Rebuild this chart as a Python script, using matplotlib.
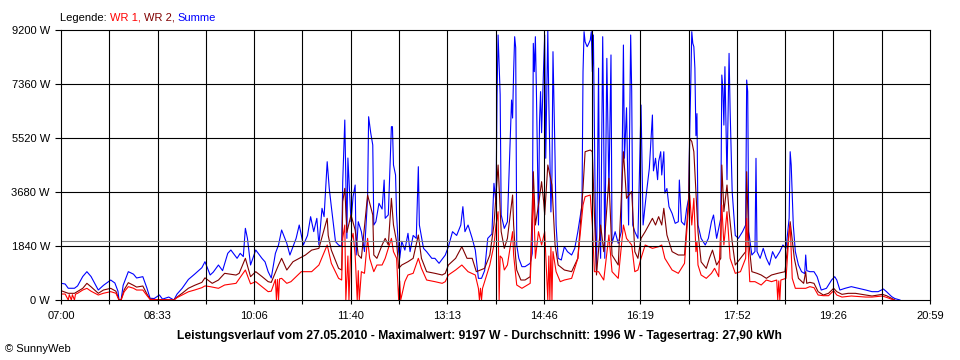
import matplotlib
matplotlib.use("Agg")
import matplotlib.pyplot as plt
import numpy as np

plt.rcParams['font.family'] = ['Liberation Sans', 'DejaVu Sans']
plt.rcParams['font.size'] = 8

# minutes after 07:00, power in W
summe = [(0, 570), (4, 545), (7, 400), (13, 400), (16, 480), (21, 800), (25, 965), (29, 800), (32, 600),
         (36, 340), (41, 500), (48, 680), (52, 580), (55, 300), (56, 0), (58, 0), (60, 500), (65, 965),
         (70, 880), (73, 750), (79, 795), (83, 400), (86, 60), (90, 50), (95, 170), (98, 30), (104, 100),
         (109, 0), (112, 200), (117, 400), (123, 700), (129, 880), (136, 1100), (139, 1305), (144, 852),
         (147, 950), (152, 1192), (156, 1000), (161, 1590), (164, 1704), (170, 1420), (173, 1590),
         (176, 1480), (178, 2442), (180, 2100), (183, 1192), (188, 1704), (194, 1420), (197, 1300),
         (200, 965), (203, 750), (207, 1590), (210, 1874), (213, 2385), (218, 1931), (221, 1533),
         (224, 1817), (227, 2100), (230, 2555), (234, 1874), (238, 2200), (241, 2839), (244, 2330),
         (247, 2783), (249, 1874), (252, 3124), (254, 2840), (257, 4712), (259, 3800), (261, 3180),
         (265, 1990), (268, 1874), (271, 1817), (272, 4031), (274, 6133), (276, 2100), (277, 4838),
         (280, 2670), (282, 3520), (284, 3918), (285, 1533), (287, 2668), (290, 2330), (293, 1650),
         (296, 3464), (297, 6245), (299, 5700), (301, 5281), (302, 2555), (304, 2668), (307, 3293),
         (310, 3100), (312, 4088), (313, 2783), (316, 2900), (319, 5906), (320, 5906), (321, 4600),
         (323, 4260), (324, 2900), (326, 1647), (327, 1420), (329, 2000), (332, 1700), (335, 2272),
         (337, 1647), (340, 2200), (343, 2100), (345, 4542), (346, 2555), (350, 1760), (353, 1647),
         (358, 1420), (361, 1420), (365, 1250), (371, 1530), (374, 1817), (378, 2328), (382, 2200),
         (386, 2555), (388, 3180), (390, 2328), (393, 2555), (397, 2100), (400, 1700), (403, 738),
         (406, 738), (409, 1000), (412, 2100), (416, 2250), (418, 3975), (420, 3300), (421, 6985),
         (422, 9030), (424, 7000), (425, 2900), (428, 2440), (431, 2668), (435, 6814), (436, 6200),
         (437, 7780), (438, 8972), (439, 8600), (440, 1874), (442, 1420), (445, 1136), (448, 1136),
         (453, 1250), (455, 1590), (456, 8745), (457, 7780), (458, 8972), (459, 7100), (461, 2555),
         (462, 6076), (463, 7100), (464, 5700), (466, 8006), (467, 9030), (468, 4830), (469, 7100),
         (470, 9177), (471, 6700), (473, 3000), (474, 4260), (475, 8461), (477, 4830), (478, 2555),
         (480, 1420), (483, 1363), (486, 1817), (489, 1647), (493, 1533), (496, 1760), (499, 2328),
         (503, 3237), (504, 7780), (505, 9143), (506, 8800), (508, 8630), (509, 8700), (511, 8860),
         (512, 9143), (513, 7780), (514, 9030), (515, 5900), (516, 2555), (517, 965), (519, 7900),
         (520, 2555), (521, 1420), (523, 8972), (524, 5600), (525, 1420), (527, 8234), (529, 3700),
         (531, 8350), (532, 1931), (535, 2328), (538, 1931), (541, 2328), (543, 8688), (544, 4830),
         (546, 6550), (548, 2555), (550, 9030), (551, 7100), (552, 2555), (554, 2328), (557, 2100),
         (560, 6644), (562, 2555), (565, 3577), (568, 4480), (571, 6303), (572, 4400), (574, 4830),
         (576, 4100), (577, 4712), (579, 5053), (580, 4260), (582, 5053), (583, 3640), (585, 3800),
         (587, 3180), (590, 2950), (593, 2612), (596, 2668), (597, 4088), (599, 2668), (602, 2555),
         (604, 3100), (606, 3464), (607, 5735), (608, 7325), (609, 9143), (610, 8745), (611, 8630),
         (612, 7900), (613, 5600), (614, 6350), (615, 2555), (618, 2100), (622, 1874), (625, 2100),
         (628, 2668), (630, 2896), (633, 2100), (637, 2783), (638, 7666), (639, 7210), (640, 5960),
         (641, 7950), (642, 5960), (643, 4100), (645, 8404), (646, 6500), (648, 3700), (651, 2200),
         (654, 2100), (658, 2328), (661, 2555), (662, 7495), (663, 7100), (664, 2328), (667, 1533),
         (670, 1650), (671, 4827), (672, 1650), (675, 1420), (678, 1760), (681, 1420), (684, 1192),
         (687, 1647), (690, 1420), (694, 1647), (697, 1874), (700, 1760), (703, 2783), (704, 5053),
         (705, 4600), (707, 2555), (709, 1647), (712, 1192), (715, 965), (718, 900), (719, 1533),
         (720, 1000), (723, 965), (727, 965), (730, 795), (734, 340), (739, 398), (744, 681), (747, 795),
         (749, 681), (752, 340), (757, 398), (763, 455), (770, 398), (777, 340), (783, 284), (789, 284),
         (794, 375), (797, 284), (802, 114), (805, 50), (810, 0)]

wr2 = [(0, 318), (7, 228), (13, 228), (21, 398), (25, 568), (29, 450), (36, 228), (41, 340), (48, 398),
       (53, 300), (56, 0), (58, 0), (61, 350), (65, 590), (70, 500), (73, 440), (79, 477), (83, 200),
       (86, 30), (90, 15), (109, 0), (112, 100), (117, 230), (123, 400), (129, 500), (136, 600),
       (139, 755), (146, 568), (152, 680), (158, 909), (169, 850), (172, 909), (178, 1420), (183, 795),
       (188, 965), (194, 800), (200, 625), (203, 600), (210, 1192), (213, 1420), (218, 1022),
       (224, 1305), (236, 1533), (242, 1700), (249, 1760), (257, 2783), (258, 2200), (261, 1700),
       (268, 1079), (271, 1022), (272, 3350), (274, 3805), (276, 2300), (280, 2900), (284, 2385),
       (287, 1533), (290, 1420), (296, 3577), (301, 2900), (302, 1533), (305, 1420), (310, 1874),
       (313, 2100), (316, 1874), (319, 3464), (321, 2555), (324, 1990), (326, 1080), (329, 1192),
       (335, 1305), (340, 1420), (345, 2215), (348, 1420), (353, 965), (361, 909), (368, 852),
       (371, 909), (374, 1192), (381, 1420), (387, 1817), (392, 1420), (397, 1420), (401, 965),
       (405, 1022), (409, 1079), (414, 1533), (418, 2555), (420, 3577), (422, 4600), (425, 2328),
       (428, 1760), (431, 2100), (436, 3577), (437, 2555), (439, 1420), (440, 1022), (444, 681),
       (448, 681), (453, 795), (456, 4372), (458, 2555), (461, 3237), (464, 4031), (466, 3350),
       (467, 2900), (470, 4600), (474, 3920), (477, 1874), (480, 1192), (486, 1022), (493, 965),
       (499, 1420), (504, 3805), (506, 5053), (511, 5110), (513, 5053), (515, 2900), (517, 852),
       (521, 2555), (524, 1647), (529, 4148), (532, 1533), (538, 1192), (543, 5053), (546, 3464),
       (551, 3700), (554, 1647), (557, 1420), (560, 2100), (564, 2328), (571, 2783), (574, 2555),
       (577, 2840), (580, 2555), (582, 3124), (585, 2215), (587, 1990), (590, 1647), (596, 1533),
       (602, 1533), (606, 3464), (607, 5508), (609, 5400), (611, 5053), (613, 3691), (614, 3010),
       (615, 2328), (618, 1300), (623, 1079), (626, 1420), (629, 1700), (633, 1192), (637, 1420),
       (638, 4600), (640, 3010), (643, 3918), (645, 3010), (648, 1990), (651, 1192), (656, 1420),
       (661, 1647), (662, 4372), (664, 1990), (667, 965), (672, 909), (676, 852), (681, 738),
       (686, 852), (692, 909), (699, 965), (704, 2668), (708, 1420), (712, 738), (717, 568), (719, 965),
       (720, 568), (723, 602), (727, 568), (731, 284), (736, 170), (741, 227), (746, 398), (749, 284),
       (754, 193), (760, 227), (767, 227), (777, 170), (783, 136), (793, 193), (797, 147), (802, 57),
       (805, 0)]

wr1 = [(0, 204), (4, 204), (7, 0), (8, 180), (10, 0), (11, 180), (13, 0), (14, 200), (16, 228), (21, 340),
       (25, 398), (29, 300), (36, 170), (41, 230), (48, 284), (53, 230), (56, 0), (58, 0), (61, 280),
       (65, 455), (70, 400), (73, 340), (79, 340), (83, 150), (86, 20), (109, 0), (112, 80), (117, 170),
       (123, 280), (129, 340), (136, 420), (139, 480), (144, 455), (152, 398), (158, 511), (169, 568),
       (178, 1022), (183, 550), (188, 625), (200, 284), (203, 300), (207, 700), (208, 0), (209, 700),
       (210, 0), (211, 720), (213, 738), (218, 568), (222, 625), (232, 965), (242, 965), (249, 1192),
       (257, 1874), (261, 1250), (268, 738), (271, 681), (272, 2101), (274, 2555), (275, 0), (277, 1500),
       (278, 0), (280, 2000), (282, 2272), (284, 1533), (286, 0), (287, 1000), (288, 0), (290, 965),
       (293, 909), (296, 2101), (298, 1420), (302, 965), (305, 1192), (310, 1192), (313, 1420),
       (319, 2101), (321, 1647), (324, 1420), (326, 0), (327, 650), (328, 0), (332, 625), (335, 852),
       (340, 909), (345, 1420), (348, 1079), (353, 681), (361, 625), (368, 568), (371, 625), (374, 852),
       (381, 1022), (387, 1192), (393, 965), (400, 852), (403, 398), (404, 0), (405, 400), (406, 0),
       (407, 400), (409, 625), (414, 1192), (418, 1874), (420, 2555), (422, 3009), (423, 0), (424, 1500),
       (426, 1420), (428, 1022), (431, 1192), (436, 2328), (437, 1533), (440, 511), (445, 398),
       (453, 568), (456, 3691), (458, 1420), (461, 2328), (464, 1874), (467, 2328), (470, 0), (471, 1500),
       (472, 0), (473, 1800), (474, 0), (475, 1650), (478, 965), (482, 625), (486, 681), (493, 738),
       (499, 1420), (504, 3237), (506, 3520), (511, 3577), (513, 2555), (515, 965), (519, 965), (524, 681),
       (529, 2215), (532, 965), (538, 738), (543, 2555), (546, 2100), (551, 1874), (554, 965), (557, 1022),
       (560, 1420), (564, 1874), (571, 1760), (577, 1817), (580, 1874), (583, 1420), (587, 1192),
       (590, 1022), (596, 909), (602, 1250), (606, 3237), (607, 3577), (609, 2555), (611, 3464),
       (613, 1647), (614, 1990), (615, 1192), (618, 852), (623, 738), (628, 909), (631, 1079), (635, 795),
       (638, 3237), (640, 1874), (643, 3010), (646, 1420), (651, 909), (656, 965), (661, 1420), (662, 2783),
       (665, 625), (670, 625), (676, 511), (681, 681), (686, 625), (691, 681), (692, 0), (693, 650),
       (694, 0), (695, 681), (700, 738), (703, 2328), (704, 2555), (706, 738), (709, 398), (715, 398),
       (719, 398), (723, 455), (727, 420), (731, 170), (736, 147), (741, 147), (746, 318), (749, 170),
       (754, 100), (763, 136), (777, 100), (783, 100), (793, 136), (797, 90), (804, 0)]

x_labels = ["07:00", "08:33", "10:06", "11:40", "13:13", "14:46", "16:19", "17:52", "19:26", "20:59"]
y_ticks = [0, 1840, 3680, 5520, 7360, 9200]
average = 1996
title = ("Leistungsverlauf vom 27.05.2010 - Maximalwert: 9197 W - "
         "Durchschnitt: 1996 W - Tagesertrag: 27,90 kWh")

fig = plt.figure(figsize=(9.6, 3.6), dpi=100)
ax = fig.add_axes([61 / 960, 60 / 360, 869 / 960, 270 / 360])

for data, col in [(summe, "#0000FF"), (wr2, "#800000"), (wr1, "#FF0000")]:
    t, p = zip(*data)
    ax.plot(t, p, color=col, lw=0.8, zorder=2)

span = 839
xt = np.arange(19) * span / 18
ax.set_xlim(0, span)
ax.set_ylim(0, 9200)
ax.set_xticks(xt)
ax.set_xticklabels([x_labels[i // 2] if i % 2 == 0 else "" for i in range(19)])
ax.set_yticks(y_ticks)
ax.set_yticklabels(["%d W" % v for v in y_ticks])
ax.tick_params(axis='x', length=3, width=0.8, pad=5, color='black')
ax.tick_params(axis='y', length=4, width=0.8, pad=4, color='black')

for v in xt[1:-1]:
    ax.axvline(v, color='black', lw=0.8, zorder=3)
for v in y_ticks[1:-1]:
    ax.axhline(v, color='black', lw=0.8, zorder=3)
ax.axhline(average, color='#808080', lw=0.8, zorder=3)
for s in ax.spines.values():
    s.set_linewidth(0.8)
    s.set_zorder(4)

# legend line at top, coloured pieces
t0 = fig.text(60 / 960, 1 - 21 / 360, "Legende: ", color='black', va='baseline')
prev = t0
for txt, col in [("WR 1, ", "#FF0000"), ("WR 2, ", "#800000"), ("Summe", "#0000FF")]:
    prev = fig.add_artist(matplotlib.text.Annotation(txt, xy=(1, 0), xycoords=prev,
                                                      va='bottom', ha='left', color=col))

fig.text(479.5 / 960, 1 - 336 / 360, title, ha='center', va='center', fontweight='bold', fontsize=8.7)
fig.text(5 / 960, 1 - 349 / 360, "\u00a9 SunnyWeb", ha='left', va='center')

fig.savefig("out.png", dpi=100)
